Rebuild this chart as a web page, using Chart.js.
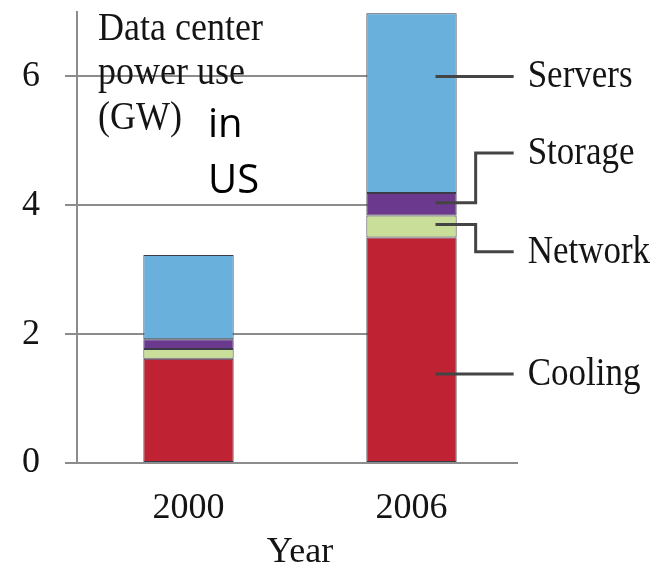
<!DOCTYPE html>
<html>
<head>
<meta charset="utf-8">
<script src="https://cdn.jsdelivr.net/npm/chart.js@4/dist/chart.umd.min.js"></script>
<style>
  html, body { margin: 0; padding: 0; background: #fff; }
  #wrap { width: 667px; height: 574px; position: relative; }
</style>
</head>
<body>
<div id="wrap"><canvas id="chart"></canvas></div>
<script>
// Data center power use in the US, GW, by component
const years = ['2000', '2006'];
const cooling = [1.62, 3.50];
const network = [0.15, 0.34];
const storage = [0.15, 0.35];
const servers = [1.31, 2.79];
const yTickValues = [0, 2, 4, 6];

// Callout labels on the right: where each leader leaves the 2006 bar and where its text sits (GW)
const calloutNames = ['Servers', 'Storage', 'Network', 'Cooling'];
const calloutFrom = [6.0, 4.04, 3.70, 1.38];
const calloutTo = [6.0, 4.81, 3.28, 1.38];

const SERIF = '"Liberation Serif", "DejaVu Serif", serif';
const GRID = '#8c8c8c';
const INK = '#141414';

function stretchedText(ctx, text, x, y, size, family, sy, baseline) {
  ctx.save();
  ctx.translate(x, y);
  ctx.scale(1, sy);
  ctx.font = size + 'px ' + family;
  ctx.textBaseline = baseline || 'alphabetic';
  ctx.textAlign = 'left';
  ctx.fillStyle = INK;
  ctx.fillText(text, 0, 0);
  ctx.restore();
}

// Horizontal grid lines at 2, 4, 6 running behind the bars
const gridBehind = {
  id: 'gridBehind',
  beforeDatasetsDraw(chart) {
    const { ctx, scales: { x, y } } = chart;
    ctx.save();
    ctx.strokeStyle = GRID;
    ctx.lineWidth = 2;
    yTickValues.filter(v => v > 0).forEach(v => {
      const py = Math.round(y.getPixelForValue(v));
      ctx.beginPath();
      ctx.moveTo(x.left - 12, py);
      ctx.lineTo(x.getPixelForValue(1), py);
      ctx.stroke();
    });
    // baseline continues under the tick stub
    const p0 = Math.round(y.getPixelForValue(0));
    ctx.beginPath();
    ctx.moveTo(x.left - 12, p0);
    ctx.lineTo(x.right - 5, p0);
    ctx.stroke();
    ctx.restore();
  }
};

// Leader lines and component names, plus the axis caption text
const annotations = {
  id: 'annotations',
  afterDatasetsDraw(chart) {
    const { ctx, scales: { x, y } } = chart;
    const meta = chart.getDatasetMeta(0).data[1];
    const barRight = meta.x + meta.width / 2;
    const startX = meta.x + 24;
    const elbowX = barRight + 19;
    const endX = barRight + 57;
    ctx.save();
    ctx.strokeStyle = '#444';
    ctx.lineWidth = 3;
    ctx.lineJoin = 'miter';
    calloutNames.forEach((name, i) => {
      const y1 = y.getPixelForValue(calloutFrom[i]);
      const y2 = y.getPixelForValue(calloutTo[i]);
      ctx.beginPath();
      ctx.moveTo(startX, y1);
      if (Math.abs(y1 - y2) > 1) {
        ctx.lineTo(elbowX, y1);
        ctx.lineTo(elbowX, y2);
      }
      ctx.lineTo(endX, y2);
      ctx.stroke();
      stretchedText(ctx, name, endX + 14, y2 + 11, 35, SERIF, 1.15, 'alphabetic');
    });
    ctx.restore();

    // Axis caption in the upper left
    const tx = x.left + 21;
    stretchedText(ctx, 'Data center', tx, 40, 36, SERIF, 1.12);
    stretchedText(ctx, 'power use', tx, 84, 36, SERIF, 1.12);
    stretchedText(ctx, '(GW)', tx, 129, 36, SERIF, 1.12);
    ctx.save();
    ctx.font = '40px "Open Sans", "Liberation Sans", sans-serif';
    ctx.fillStyle = '#000';
    ctx.textBaseline = 'alphabetic';
    ctx.fillText('in', tx + 110, 137);
    ctx.fillText('US', tx + 110, 193);
    ctx.restore();
  }
};

const seriesStyle = (label, data, color) => ({
  label, data,
  backgroundColor: color,
  borderColor: '#3c3a48',
  borderWidth: 1,
  borderSkipped: false,
  categoryPercentage: 1,
  barPercentage: 0.405
});

new Chart(document.getElementById('chart'), {
  type: 'bar',
  data: {
    labels: years,
    datasets: [
      seriesStyle('Cooling', cooling, '#bf2333'),
      seriesStyle('Network', network, '#c9de98'),
      seriesStyle('Storage', storage, '#6b3a8f'),
      seriesStyle('Servers', servers, '#69b1dc')
    ]
  },
  options: {
    responsive: true,
    maintainAspectRatio: false,
    animation: false,
    layout: { padding: { top: 12, right: 144, left: 0, bottom: 0 } },
    plugins: { legend: { display: false }, tooltip: { enabled: false } },
    scales: {
      x: {
        stacked: true,
        grid: { display: false },
        border: { display: false },
        ticks: { color: INK, font: { family: SERIF, size: 36 }, padding: 16 },
        title: { display: true, text: 'Year', color: INK, font: { family: SERIF, size: 36 }, padding: { top: 0, bottom: 0 } },
        afterFit(s) { s.height = 111; s.paddingLeft = 0; s.paddingRight = 0; }
      },
      y: {
        stacked: true,
        min: 0,
        max: 7,
        grid: { drawOnChartArea: false, drawTicks: true, tickLength: 12, color: GRID, lineWidth: 2 },
        border: { display: true, color: GRID, width: 2 },
        ticks: {
          stepSize: 2,
          includeBounds: false,
          padding: 25,
          color: INK,
          font: { family: SERIF, size: 36 }
        },
        afterFit(s) { s.width = 77; s.paddingTop = 0; s.paddingBottom = 0; }
      }
    }
  },
  plugins: [gridBehind, annotations]
});
</script>
</body>
</html>
